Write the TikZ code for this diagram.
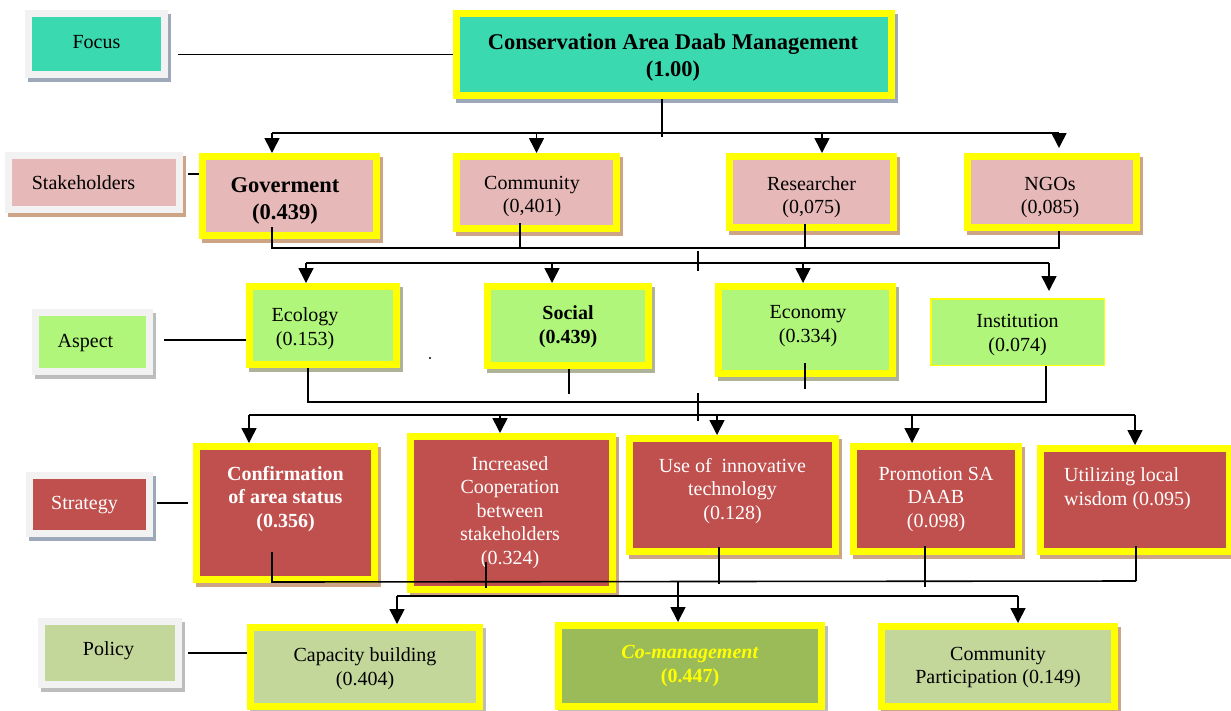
\documentclass[tikz,border=0pt]{standalone}
\usepackage{fontspec}
\setmainfont{Liberation Serif}
\usetikzlibrary{arrows.meta}
\definecolor{teal1}{HTML}{3AD9B0}
\definecolor{pink1}{HTML}{E6B8B7}
\definecolor{lime1}{HTML}{B0F67A}
\definecolor{red1}{HTML}{C0504D}
\definecolor{pol1}{HTML}{C4D79B}
\definecolor{pol2}{HTML}{9BBB59}
\definecolor{yel}{HTML}{FFFF00}
\definecolor{lgray}{HTML}{F2F2F2}
\definecolor{shBlue}{HTML}{9DA8B9}
\definecolor{shTan}{HTML}{CDA486}
\definecolor{shOlive}{HTML}{AEB398}
\definecolor{shGray}{HTML}{BDBDBD}
\newcommand\fs{\fontsize{20}{23.5}\selectfont}
\newcommand\fbig{\fontsize{22.5}{27}\selectfont\bfseries}
\newcommand\fbold{\fontsize{20}{23.5}\selectfont\bfseries}
% text block: [column spec]{2 x horizontal shift}{raise}{lines}
\newcommand\tx[4][c]{\raisebox{\dimexpr#3-2.5pt\relax}[0pt][0pt]{\makebox[0pt]{\hspace*{#2}\begin{tabular}[c]{@{}#1@{}}#4\end{tabular}}}}
\tikzset{
  ln/.style={line width=1.6pt, black},
  arr/.style={line width=1.6pt, black, -{Triangle[width=15pt,length=15pt]}},
  shad/.style={preaction={draw=#1, fill=#1, line width=7pt, transform canvas={shift={(2.5pt,-4pt)}}}},
  ybox/.style={draw=yel, line width=7pt, outer sep=3.5pt, inner sep=0pt, font=\fs},
  lbox/.style={draw=lgray, line width=7pt, outer sep=3.5pt, inner sep=0pt, font=\fs},
  sz/.style 2 args={minimum width=#1pt, minimum height=#2pt},
}
\begin{document}
\begin{tikzpicture}[x=1pt,y=-1pt]
\path[use as bounding box, fill=white] (0,0) rectangle (1231,710);

% ---------- nodes ----------
\node[lbox, fill=teal1, shad=shBlue, sz={136}{61}] (focus) at (96.5,44) {\tx{0pt}{-2pt}{Focus}};
\node[ybox, fill=teal1, shad=shBlue, sz={435}{82}, font=\fbig] (main) at (674,54.5) {\tx{-2pt}{-5.5pt}{Conservation Area Daab Management\\(1.00)}};

\node[lbox, fill=pink1, shad=shTan, sz={171}{54}] (stk) at (94,182.5) {\tx{-21pt}{-4.5pt}{Stakeholders}};
\node[ybox, fill=pink1, shad=shTan, sz={174}{79}, font=\fbig] (gov) at (289.5,196) {\tx{-9pt}{-7pt}{Goverment\\(0.439)}};
\node[ybox, fill=pink1, shad=shTan, sz={160}{72}] (com) at (536.5,192.5) {\tx{-9pt}{-6.5pt}{Community\\(0,401)}};
\node[ybox, fill=pink1, shad=shTan, sz={164}{71}] (res) at (811.5,192) {\tx{0pt}{-8pt}{Researcher\\(0,075)}};
\node[ybox, fill=pink1, shad=shTan, sz={169}{71}] (ngo) at (1052,192) {\tx{-4pt}{-8pt}{NGOs\\(0,085)}};

\node[lbox, fill=lime1, shad=shGray, sz={114}{59}] (asp) at (92.5,342) {\tx{-14pt}{-3pt}{Aspect}};
\node[ybox, fill=lime1, shad=shOlive, sz={147}{78}] (eco) at (323,325.5) {\tx{-36pt}{-6pt}{Ecology\\(0.153)}};
\node[ybox, fill=lime1, shad=shOlive, sz={161}{79}, font=\fbold] (soc) at (568,326) {\tx{0pt}{-3.5pt}{Social\\(0.439)}};
\node[ybox, fill=lime1, shad=shOlive, sz={174}{87}] (econ) at (805.5,330) {\tx{5pt}{1.5pt}{Economy\\(0.334)}};
\node[draw=yel, line width=1.5pt, outer sep=0.75pt, inner sep=0pt, font=\fs, fill=lime1, sz={173.5}{66.5}] (ins) at (1017.5,332) {\tx{0pt}{-5.5pt}{Institution\\(0.074)}};

\node[lbox, fill=red1, shad=shBlue, sz={120}{58}, text=white] (str) at (89.5,504.5) {\tx{-10pt}{-2.5pt}{Strategy}};
\node[ybox, fill=red1, shad=shTan, sz={178}{133}, text=white, font=\fbold] (conf) at (285.5,513) {\tx{0pt}{11.5pt}{Confirmation\\of area status\\(0.356)}};
\node[ybox, fill=red1, shad=shTan, sz={202}{153}, text=white] (inc) at (511.5,513) {\tx{-3pt}{-2pt}{Increased\\Cooperation\\between\\stakeholders\\(0.324)}};
\node[ybox, fill=red1, shad=shTan, sz={206}{113}, text=white] (use) at (732.5,495) {\tx{0pt}{1.5pt}{Use of \ innovative\\technology\\(0.128)}};
\node[ybox, fill=red1, shad=shTan, sz={165}{105}, text=white] (pro) at (936,499) {\tx{0pt}{-2.5pt}{Promotion SA\\DAAB\\(0.098)}};
\node[ybox, fill=red1, shad=shTan, sz={189}{103}, text=white] (uti) at (1135,500) {\tx[l]{-15pt}{8.5pt}{Utilizing local\\wisdom (0.095)}};

\node[lbox, fill=pol1, shad=shGray, sz={137}{63}] (pol) at (110,653) {\tx{-3pt}{0pt}{Policy}};
\node[ybox, fill=pol1, shad=shGray, sz={229}{79}] (cap) at (365,667) {\tx{0pt}{-4.5pt}{Capacity building\\(0.404)}};
\node[ybox, fill=pol2, shad=shGray, sz={263}{81}, text=yel, font=\fbold] (co) at (690,666) {\tx{0pt}{-2.5pt}{\textit{Co-management}\\(0.447)}};
\node[ybox, fill=pol1, shad=shTan, sz={233}{80}] (cp) at (998,666.5) {\tx{0pt}{-3.5pt}{Community\\Participation (0.149)}};

% ---------- level labels to rows ----------
\coordinate (f1) at (178,54.5);
\draw[ln] (f1) -- (f1 -| main.west);
\coordinate (s1) at (188,174);
\draw[ln] (s1) -- (s1 -| gov.west);
\coordinate (a1) at (164,340);
\draw[ln] (a1) -- (a1 -| eco.west);
\coordinate (t1) at (157,503);
\draw[ln, shorten >=5pt] (t1) -- (t1 -| conf.west);
\coordinate (p1) at (188,653);
\draw[ln] (p1) -- (p1 -| cap.west);

% ---------- focus -> stakeholders ----------
\coordinate (b1L) at (272,133);
\coordinate (b1R) at (1059,133);
\draw[ln] (main.south -| 662,0) -- ++(0,38);
\draw[ln] (b1L) -- (b1R);
\draw[arr] (b1L) -- (b1L |- gov.north);
\draw[arr] (b1L -| com.north) -- (com.north);
\draw[arr] (b1L -| 822,0) -- (822,0 |- res.north);
\draw[arr] (b1R) -- ++(0,15);

% ---------- stakeholders -> aspects ----------
\coordinate (b2L) at (272,248);
\coordinate (b2R) at (1059,248);
\draw[ln] (b2L |- gov.south) ++(0,-12) -- (b2L) -- (b2R) -- (b2R |- ngo.south);
\draw[ln] (520,0 |- com.south) ++(0,-9) -- (520,0 |- b2L);
\draw[ln] (805,0 |- res.south) ++(0,-7) -- (805,0 |- b2L);
\draw[ln] (b2L -| 698,0) ++(0,3) -- ++(0,20);
\coordinate (b3L) at (306,263);
\coordinate (b3R) at (1049,263);
\draw[ln] (b3L) -- (b3R);
\draw[arr] (b3L) -- (b3L |- eco.north);
\draw[arr] (b3L -| 552,0) -- (552,0 |- soc.north);
\draw[arr] (b3L -| 803,0) -- (803,0 |- econ.north);
\draw[arr] (b3R) -- ++(0,28);
\fill (430,358) circle (1.2pt);

% ---------- aspects -> strategies ----------
\coordinate (b4L) at (308,402);
\coordinate (b4R) at (1046,402);
\draw[ln] (b4L |- eco.south) -- (b4L) -- (b4R) -- (b4R |- ins.south);
\draw[ln] (569,0 |- soc.south) -- ++(0,25);
\draw[ln] (805,0 |- econ.south) ++(0,-14) -- ++(0,26);
\draw[ln] (b4L -| 698,0) ++(0,-9) -- ++(0,28);
\coordinate (b5L) at (249,415);
\coordinate (b5R) at (1135,415);
\draw[ln] (b5L) -- (b5R);
\draw[arr] (b5L) -- (b5L |- conf.north);
\draw[arr] (b5L -| 500,0) -- (500,0 |- inc.north);
\draw[arr] (b5L -| 717,0) -- (717,0 |- use.north);
\draw[arr] (b5L -| 912,0) -- (912,0 |- pro.north);
\draw[arr] (b5R) -- (b5R |- uti.north);

% ---------- strategies -> policies ----------
\coordinate (b6L) at (272,582);
\coordinate (b6R) at (1136,581);
\draw[ln] (b6L |- conf.south) ++(0,-31) -- (b6L) -- (b6R);
\draw[ln] (b6R |- uti.south) ++(0,-9) -- (b6R);
\draw[ln] (486,0 |- inc.south) ++(0,-31) -- ++(0,26);
\draw[ln] (719,0 |- use.south) ++(0,-8) -- ++(0,37);
\draw[ln] (925,0 |- pro.south) ++(0,-9) -- ++(0,41);
\draw[arr] (b6L -| 678,0) -- (678,0 |- co.north);
\coordinate (b7L) at (397,596);
\coordinate (b7R) at (1018,596);
\draw[ln] (b7L) -- (b7R);
\draw[arr] (b7L) -- (b7L |- cap.north);
\draw[arr] (b7R) -- (b7R |- cp.north);
\end{tikzpicture}
\end{document}
